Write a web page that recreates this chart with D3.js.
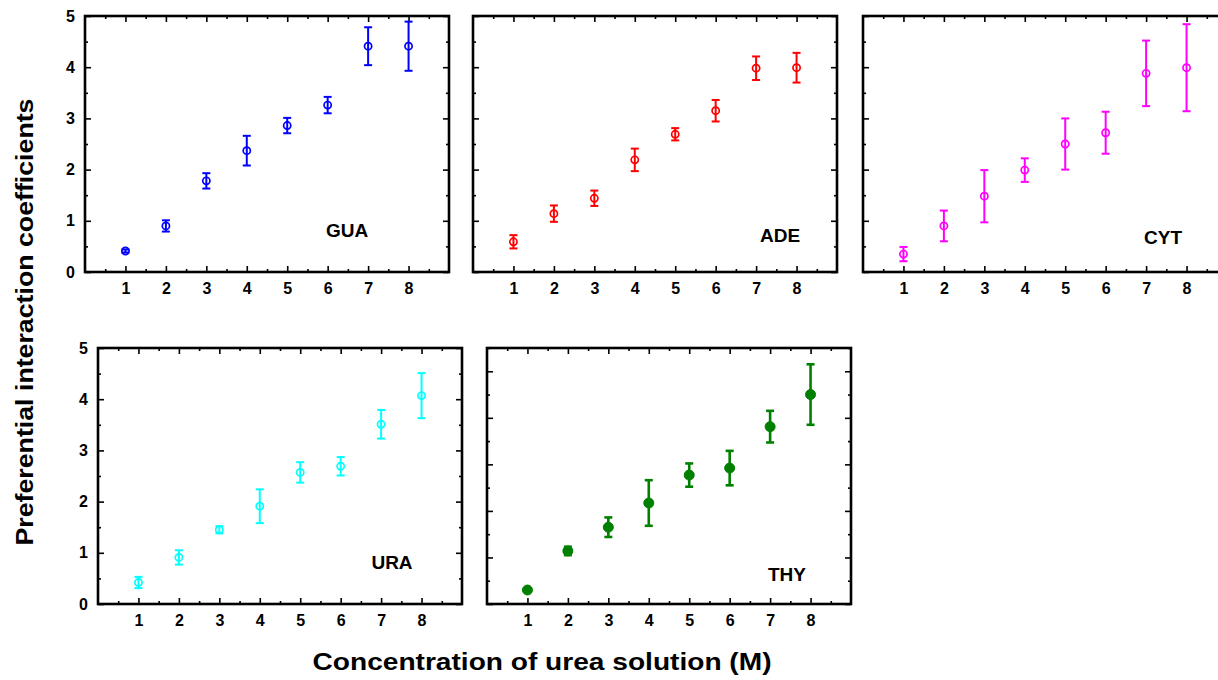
<!DOCTYPE html>
<html>
<head>
<meta charset="utf-8">
<script src="https://cdn.jsdelivr.net/npm/d3@7"></script>
<style>
  body { margin: 0; background: #fff; }
  text { font-family: "Liberation Sans", Arial, sans-serif; font-weight: bold; }
</style>
</head>
<body>
<script>
var w = 1218;
var h = 680;

// urea concentration (M)
var conc = [1, 2, 3, 4, 5, 6, 7, 8];

// preferential interaction coefficients and error bars
var gua    = [0.41, 0.90, 1.78, 2.37, 2.86, 3.26, 4.41, 4.41];
var guaErr = [0.03, 0.11, 0.15, 0.29, 0.15, 0.16, 0.37, 0.48];
var ade    = [0.59, 1.14, 1.44, 2.19, 2.69, 3.15, 3.98, 3.99];
var adeErr = [0.13, 0.16, 0.15, 0.22, 0.12, 0.21, 0.23, 0.29];
var cyt    = [0.35, 0.90, 1.48, 1.99, 2.50, 2.72, 3.88, 3.99];
var cytErr = [0.14, 0.30, 0.51, 0.23, 0.50, 0.41, 0.64, 0.85];
var ura    = [0.42, 0.91, 1.45, 1.91, 2.57, 2.69, 3.51, 4.07];
var uraErr = [0.11, 0.14, 0.07, 0.33, 0.20, 0.18, 0.28, 0.44];
// THY panel has its own (unlabelled) axis running 0 - 5.5
var thy    = [0.30, 1.14, 1.65, 2.17, 2.77, 2.92, 3.81, 4.50];
var thyErr = [0.00, 0.09, 0.21, 0.49, 0.25, 0.37, 0.34, 0.65];

var xTicks = [1, 2, 3, 4, 5, 6, 7, 8];
var yTicks = [0, 1, 2, 3, 4, 5];

var svg = d3.select("body").append("svg")
    .attr("width", w)
    .attr("height", h);

// panel layout
var panels = [
  {name: "GUA", y: gua, err: guaErr, color: "#0000ff", x0: 85,  y0: 16,  yMax: 5,   labels: true,  filled: false, lx: 262, ly: 42},
  {name: "ADE", y: ade, err: adeErr, color: "#ff0000", x0: 473, y0: 16,  yMax: 5,   labels: false, filled: false, lx: 307, ly: 37},
  {name: "CYT", y: cyt, err: cytErr, color: "#ff00ff", x0: 863, y0: 16,  yMax: 5,   labels: false, filled: false, lx: 300, ly: 35},
  {name: "URA", y: ura, err: uraErr, color: "#00ffff", x0: 98,  y0: 348, yMax: 5,   labels: true,  filled: false, lx: 294, ly: 42},
  {name: "THY", y: thy, err: thyErr, color: "#008000", x0: 487, y0: 348, yMax: 5.5, labels: false, filled: true,  lx: 300, ly: 30}
];

var pw = 364, ph = 256;

panels.forEach(function(p) {
  var g = svg.append("g").attr("transform", "translate(" + p.x0 + "," + p.y0 + ")");

  var x = d3.scaleLinear().domain([0, 9]).range([0, pw]);
  var y = d3.scaleLinear().domain([0, p.yMax]).range([ph, 0]);

  var xMinor = d3.range(0.5, 9, 0.5).filter(function(v) { return v % 1 != 0; });
  var yMinor = d3.range(0.5, p.yMax + 0.01, 0.5).filter(function(v) { return v % 1 != 0; });

  // minor ticks, all four sides
  g.append("g").attr("transform", "translate(0," + ph + ")")
    .call(d3.axisBottom(x).tickValues(xMinor).tickSizeInner(-3).tickSizeOuter(0).tickFormat(""));
  g.append("g")
    .call(d3.axisTop(x).tickValues(xMinor).tickSizeInner(-3).tickSizeOuter(0).tickFormat(""));
  g.append("g")
    .call(d3.axisLeft(y).tickValues(yMinor).tickSizeInner(-3).tickSizeOuter(0).tickFormat(""));
  g.append("g").attr("transform", "translate(" + pw + ",0)")
    .call(d3.axisRight(y).tickValues(yMinor).tickSizeInner(-3).tickSizeOuter(0).tickFormat(""));

  // major ticks
  g.append("g").attr("class", "xaxis").attr("transform", "translate(0," + ph + ")")
    .call(d3.axisBottom(x).tickValues(xTicks).tickSizeInner(-6).tickSizeOuter(0).tickPadding(11).tickFormat(d3.format("d")));
  g.append("g")
    .call(d3.axisTop(x).tickValues(xTicks).tickSizeInner(-6).tickSizeOuter(0).tickFormat(""));
  g.append("g").attr("class", "yaxis")
    .call(d3.axisLeft(y).tickValues(yTicks).tickSizeInner(-6).tickSizeOuter(0).tickPadding(10)
      .tickFormat(p.labels ? d3.format("d") : ""));
  g.append("g").attr("transform", "translate(" + pw + ",0)")
    .call(d3.axisRight(y).tickValues(yTicks).tickSizeInner(-6).tickSizeOuter(0).tickFormat(""));

  g.selectAll(".domain").remove();
  g.selectAll(".tick line").attr("stroke", "#000").attr("stroke-width", 1.6);
  g.selectAll(".tick text").attr("fill", "#000").style("font-size", "16px").style("font-weight", "bold")
    .style("font-family", "'Liberation Sans', Arial, sans-serif");

  // frame
  g.append("rect")
    .attr("width", pw)
    .attr("height", ph)
    .attr("fill", "none")
    .attr("stroke", "#000")
    .attr("stroke-width", 2.6);

  var pts = conc.map(function(c, i) { return {x: c, y: p.y[i], e: p.err[i]}; });
  var sw = p.filled ? 2.6 : 2;

  // error bars
  var eb = g.selectAll(".eb").data(pts).enter().append("g");
  eb.append("line")
    .attr("x1", function(d) { return x(d.x); })
    .attr("x2", function(d) { return x(d.x); })
    .attr("y1", function(d) { return y(d.y + d.e); })
    .attr("y2", function(d) { return y(d.y - d.e); })
    .attr("stroke", p.color).attr("stroke-width", sw);
  eb.append("line")
    .attr("x1", function(d) { return x(d.x) - 4; })
    .attr("x2", function(d) { return x(d.x) + 4; })
    .attr("y1", function(d) { return y(d.y + d.e); })
    .attr("y2", function(d) { return y(d.y + d.e); })
    .attr("stroke", p.color).attr("stroke-width", sw);
  eb.append("line")
    .attr("x1", function(d) { return x(d.x) - 4; })
    .attr("x2", function(d) { return x(d.x) + 4; })
    .attr("y1", function(d) { return y(d.y - d.e); })
    .attr("y2", function(d) { return y(d.y - d.e); })
    .attr("stroke", p.color).attr("stroke-width", sw);

  // markers
  g.selectAll(".pt").data(pts).enter().append("circle")
    .attr("cx", function(d) { return x(d.x); })
    .attr("cy", function(d) { return y(d.y); })
    .attr("r", p.filled ? 5 : 3.6)
    .attr("fill", p.filled ? p.color : "none")
    .attr("stroke", p.color)
    .attr("stroke-width", p.filled ? 1 : 1.7);

  // panel label
  g.append("text")
    .attr("x", p.lx)
    .attr("y", ph - p.ly)
    .attr("text-anchor", "middle")
    .attr("dy", "0.35em")
    .style("font-size", "19px")
    .text(p.name);
});

// axis titles (the original lettering is a little wider than Liberation Sans)
svg.append("text")
  .attr("x", 542)
  .attr("y", 670)
  .attr("text-anchor", "middle")
  .attr("textLength", 459)
  .attr("lengthAdjust", "spacingAndGlyphs")
  .style("font-size", "23px")
  .text("Concentration of urea solution (M)");

svg.append("text")
  .attr("transform", "translate(33,322) rotate(-90)")
  .attr("text-anchor", "middle")
  .attr("textLength", 447)
  .attr("lengthAdjust", "spacingAndGlyphs")
  .style("font-size", "23px")
  .text("Preferential interaction coefficients");
</script>
</body>
</html>
